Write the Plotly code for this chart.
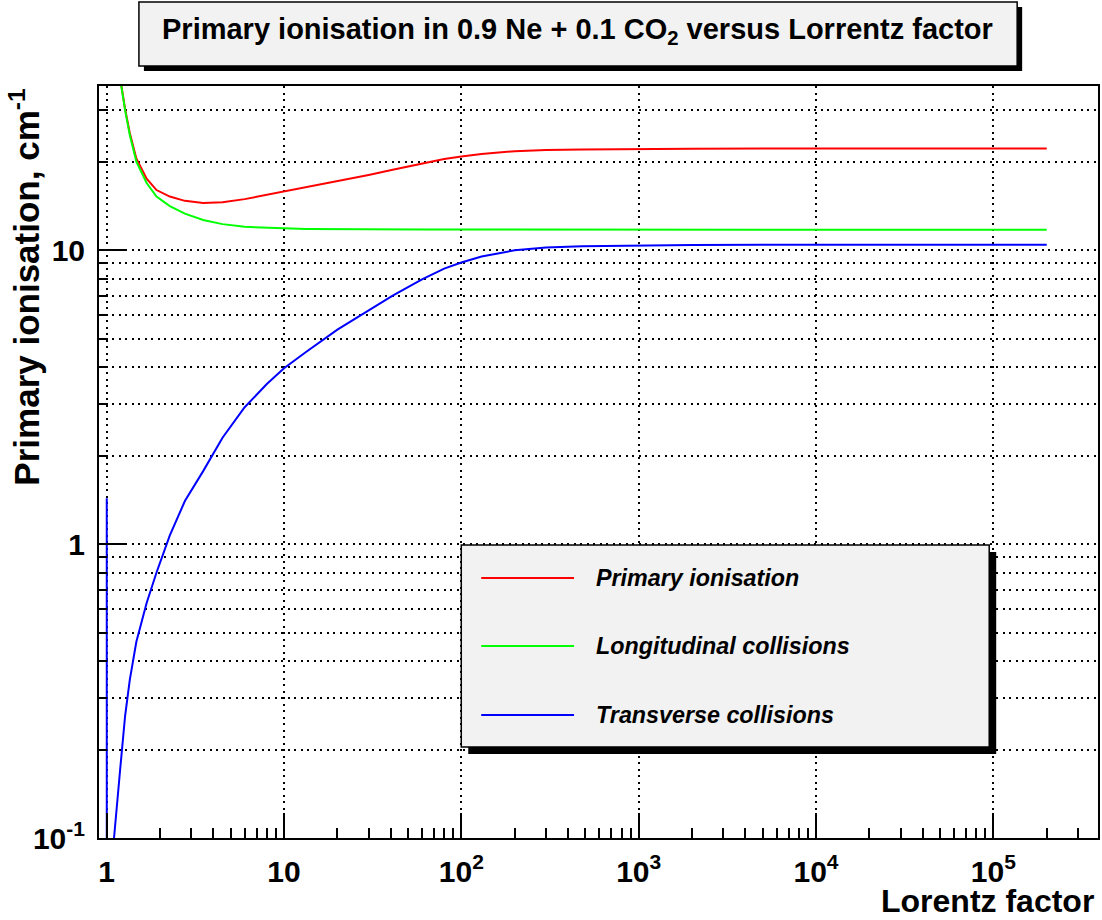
import plotly.graph_objects as go

# Lorentz factor grid shared by the three curves
gamma = [1.001, 1.002, 1.01, 1.05, 1.1, 1.19, 1.27, 1.35, 1.47, 1.68, 1.91, 2.27,
         2.76, 3.5, 4.5, 6.0, 8.0, 10, 13.3, 20, 30, 41, 60, 80, 100, 130, 200,
         300, 480, 1000, 2000, 5000, 1e4, 3e4, 1e5, 2e5]

# primary ionisation (cm^-1) = longitudinal + transverse collisions
primary = [5600, 2800, 570, 121, 65, 38.6, 30.2, 25.0, 20.5, 17.5, 16.0, 15.2,
           14.7, 14.45, 14.55, 14.9, 15.4, 15.8, 16.3, 17.15, 18.0, 18.75, 19.7,
           20.4, 20.8, 21.2, 21.7, 21.9, 22.0, 22.1, 22.12, 22.14, 22.14, 22.15,
           22.15, 22.15]

longitudinal = [5600, 2800, 570, 121, 65, 38.4, 29.9, 24.6, 20.0, 16.9, 15.2, 14.1,
                13.3, 12.65, 12.25, 12.0, 11.9, 11.85, 11.8, 11.77, 11.76, 11.75,
                11.75, 11.74, 11.74, 11.73, 11.73, 11.72, 11.72, 11.72, 11.72,
                11.72, 11.72, 11.72, 11.72, 11.72]

transverse = [1.43, 0.0005, 0.003, 0.03, 0.1, 0.17, 0.26, 0.345, 0.465, 0.63, 0.80,
              1.07, 1.40, 1.77, 2.30, 2.92, 3.50, 3.96, 4.50, 5.36, 6.25, 7.0,
              7.95, 8.65, 9.07, 9.5, 9.98, 10.2, 10.31, 10.37, 10.40, 10.42, 10.42,
              10.43, 10.43, 10.43]

series_names = ["Primary ionisation", "Longitudinal collisions", "Transverse collisions"]
series_values = [primary, longitudinal, transverse]
series_colors = ["#ff0000", "#00ff00", "#0000ff"]

x_tick_vals = [1, 10, 100, 1000, 1e4, 1e5]
x_tick_text = ["1", "10", "10<sup>2</sup>", "10<sup>3</sup>", "10<sup>4</sup>", "10<sup>5</sup>"]
y_tick_vals = [0.1, 1, 10]
y_tick_text = ["10<sup>-1</sup>", "1", "10"]

x_minor = [m * 10 ** k for k in range(0, 6) for m in range(2, 10)]
y_minor = [m * 10 ** k for k in range(-1, 2) for m in range(2, 10)]

W, H = 1102, 920
ML, MR, MT, MB = 99, 2, 86, 82
PW, PH = W - ML - MR, H - MT - MB

FONT = "Liberation Sans"


def px(X):
    return (X - ML) / PW


def py(Y):
    return (H - MB - Y) / PH


fig = go.Figure()
for name, vals, col in zip(series_names, series_values, series_colors):
    fig.add_trace(go.Scatter(x=gamma, y=vals, mode="lines", name=name,
                             line=dict(color=col, width=2), showlegend=False))

grid_dash = "2px,4.5px"

fig.update_xaxes(
    type="log", range=[-0.0433, 5.590],
    tickmode="array", tickvals=x_tick_vals, ticktext=x_tick_text,
    ticks="inside", ticklen=25, tickwidth=1.5, tickcolor="black",
    showline=True, linecolor="black", linewidth=2, mirror=True,
    showgrid=True, gridcolor="black", gridwidth=1.5, griddash=grid_dash,
    tickfont=dict(family=FONT, size=30, color="black", weight="bold"),
    ticklabelstandoff=6,
    minor=dict(tickmode="array", tickvals=x_minor, ticks="inside", ticklen=10,
               tickwidth=1.5, tickcolor="black", showgrid=False),
    zeroline=False,
)
fig.update_yaxes(
    type="log", range=[-1, 1.558],
    tickmode="array", tickvals=y_tick_vals, ticktext=y_tick_text,
    ticks="inside", ticklen=28, tickwidth=1.5, tickcolor="black",
    showline=True, linecolor="black", linewidth=2, mirror=True,
    showgrid=True, gridcolor="black", gridwidth=1.5, griddash=grid_dash,
    tickfont=dict(family=FONT, size=30, color="black", weight="bold"),
    ticklabelstandoff=6,
    minor=dict(tickmode="array", tickvals=y_minor, ticks="inside", ticklen=8,
               tickwidth=1.5, tickcolor="black", showgrid=True,
               gridcolor="black", gridwidth=1.5, griddash=grid_dash),
    zeroline=False,
)

shapes = []
annotations = []

# title box with drop shadow
tb = (139, 2, 1019, 66)
shapes.append(dict(type="rect", xref="paper", yref="paper",
                   x0=px(tb[0] + 5), x1=px(tb[2] + 5), y0=py(tb[3] + 5), y1=py(tb[1] + 5),
                   fillcolor="black", line=dict(width=0)))
shapes.append(dict(type="rect", xref="paper", yref="paper",
                   x0=px(tb[0]), x1=px(tb[2]), y0=py(tb[3]), y1=py(tb[1]),
                   fillcolor="#f2f2f2", line=dict(color="black", width=1.5)))
annotations.append(dict(
    xref="paper", yref="paper", x=px((tb[0] + tb[2]) / 2 - 1), y=py(31),
    xanchor="center", yanchor="middle", showarrow=False,
    text="Primary ionisation in 0.9 Ne + 0.1 CO<sub>2</sub> versus Lorrentz factor",
    font=dict(family=FONT, size=29, color="black", weight="bold")))

# legend box with drop shadow
lb = (462, 545, 991, 747)
shapes.append(dict(type="rect", xref="paper", yref="paper",
                   x0=px(lb[0] + 7), x1=px(lb[2] + 7), y0=py(lb[3] + 7), y1=py(lb[1] + 7),
                   fillcolor="black", line=dict(width=0)))
shapes.append(dict(type="rect", xref="paper", yref="paper",
                   x0=px(lb[0]), x1=px(lb[2]), y0=py(lb[3]), y1=py(lb[1]),
                   fillcolor="#f2f2f2", line=dict(color="black", width=1.5)))
legend_rows = [578, 646, 715]
for name, col, yy in zip(series_names, series_colors, legend_rows):
    shapes.append(dict(type="line", xref="paper", yref="paper",
                       x0=px(482), x1=px(575), y0=py(yy), y1=py(yy),
                       line=dict(color=col, width=2)))
    annotations.append(dict(
        xref="paper", yref="paper", x=px(595), y=py(yy),
        xanchor="left", yanchor="middle", showarrow=False, text=name,
        font=dict(family=FONT, size=23.3, color="black", weight="bold", style="italic")))

# axis titles
annotations.append(dict(
    xref="paper", yref="paper", x=1, y=py(901), xshift=-2,
    xanchor="right", yanchor="middle", showarrow=False, text="Lorentz factor",
    font=dict(family=FONT, size=32, color="black", weight="bold")))
annotations.append(dict(
    xref="paper", yref="paper", x=px(24), y=py(87),
    xanchor="center", yanchor="top", showarrow=False, textangle=-90,
    text="Primary ionisation, cm<sup>-1</sup>",
    font=dict(family=FONT, size=35, color="black", weight="bold")))

fig.update_layout(
    width=W, height=H,
    margin=dict(l=ML, r=MR, t=MT, b=MB),
    paper_bgcolor="white", plot_bgcolor="white",
    shapes=shapes, annotations=annotations,
    showlegend=False,
)

fig.write_html("out.html")
